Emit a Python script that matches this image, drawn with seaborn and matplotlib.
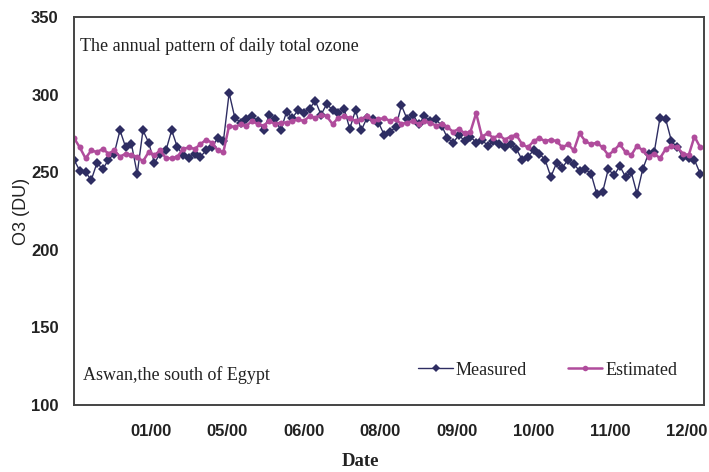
import matplotlib
matplotlib.use("Agg")
import matplotlib.pyplot as plt
import seaborn as sns
import pandas as pd
import numpy as np

# ---- data ----
days = list(range(0, 330, 3))
measured = [258, 251, 250, 245, 256, 252, 258, 262, 277, 266,
            268, 249, 277, 269, 256, 262, 264, 277, 266, 261,
            259, 262, 260, 264, 266, 272, 270, 301, 285, 282,
            284, 286, 283, 277, 287, 284, 277, 289, 285, 290,
            288, 291, 296, 287, 294, 290, 288, 291, 278, 290,
            277, 285, 284, 282, 274, 276, 279, 293, 284, 287,
            281, 286, 283, 284, 280, 272, 269, 274, 270, 273,
            269, 271, 267, 270, 268, 266, 268, 265, 258, 260,
            264, 262, 258, 247, 256, 253, 258, 255, 251, 252,
            249, 236, 237, 252, 248, 254, 247, 250, 236, 252,
            262, 263, 285, 284, 270, 266, 260, 259, 258, 249]
estimated = [272, 266, 259, 264, 263, 265, 262, 264, 260, 262,
             261, 260, 257, 263, 261, 264, 259, 259, 260, 265,
             266, 265, 268, 271, 269, 264, 263, 280, 279, 281,
             280, 283, 281, 280, 283, 281, 282, 282, 283, 284,
             283, 286, 285, 287, 286, 281, 285, 286, 285, 283,
             284, 286, 283, 284, 285, 283, 284, 281, 282, 283,
             281, 283, 282, 280, 281, 279, 276, 278, 275, 276,
             288, 273, 275, 272, 274, 271, 273, 274, 268, 266,
             270, 272, 270, 271, 270, 266, 268, 264, 275, 270,
             268, 269, 266, 261, 264, 268, 263, 261, 267, 264,
             260, 262, 259, 265, 267, 266, 262, 261, 273, 266]
tick_days = [40, 80, 120, 160, 200, 240, 280, 320]
tick_labels = ["01/00", "05/00", "06/00", "08/00", "09/00", "10/00", "11/00", "12/00"]
yticks = [100, 150, 200, 250, 300, 350]

df_m = pd.DataFrame({"day": days, "O3": measured, "series": "Measured"})
df_e = pd.DataFrame({"day": days, "O3": estimated, "series": "Estimated"})

navy = "#2E2D62"
magenta = "#B04C9C"

sns.set_style("white")
fig = plt.figure(figsize=(7.09, 4.72), dpi=100)
ax = fig.add_axes([0.1044, 0.1419, 0.8886, 0.8221])

sns.lineplot(data=df_m, x="day", y="O3", ax=ax, color=navy, marker="D",
             markersize=5.6, markeredgewidth=0, linewidth=1.0,
             label="Measured", sort=False)
sns.lineplot(data=df_e, x="day", y="O3", ax=ax, color=magenta, marker="o",
             markersize=4.3, markeredgewidth=0, linewidth=1.8,
             label="Estimated", sort=False)

ax.set_xlim(0, 329)
ax.set_ylim(100, 350)
ax.set_xticks(tick_days)
ax.set_yticks(yticks)

tick_font = dict(family=["Liberation Sans Narrow", "Liberation Sans"], weight="bold", size=12)
ax.set_xticklabels(tick_labels, fontdict=tick_font)
ax.set_yticklabels([str(v) for v in yticks], fontdict=tick_font)
ax.tick_params(axis="x", direction="in", length=4, width=1, color="#444444", pad=14,
               labelcolor="#222222")
ax.tick_params(axis="y", direction="in", length=4, width=1, color="#444444", pad=11,
               labelcolor="#222222")

for sp in ax.spines.values():
    sp.set_visible(True)
    sp.set_color("#444444")
    sp.set_linewidth(1.4)

ax.set_xlabel("")
ax.set_ylabel("")
fig.text(0.031, 0.553, "O3 (DU)", rotation=90, ha="center", va="center",
         family=["Liberation Sans"], size=13, color="#222222")
fig.text(0.509, 0.022, "Date", ha="center", va="center",
         family=["Liberation Serif"], weight="bold", size=13.5, color="#222222")

serif = ["Liberation Serif"]
ax.text(0.010, 0.925, "The annual pattern of daily total ozone", transform=ax.transAxes,
        ha="left", va="center", family=serif, size=13, color="#222222")
ax.text(0.014, 0.078, "Aswan,the south of Egypt", transform=ax.transAxes,
        ha="left", va="center", family=serif, size=13, color="#222222")

leg = ax.legend(loc="center", bbox_to_anchor=(0.752, 0.09), ncol=2, frameon=False,
                handlelength=1.9, handletextpad=0.15, columnspacing=2.3,
                prop=dict(family=serif, size=13))
for t in leg.get_texts():
    t.set_color("#222222")
for h in leg.legend_handles:
    h.set_markersize(4)

fig.savefig("out.png", dpi=100)
